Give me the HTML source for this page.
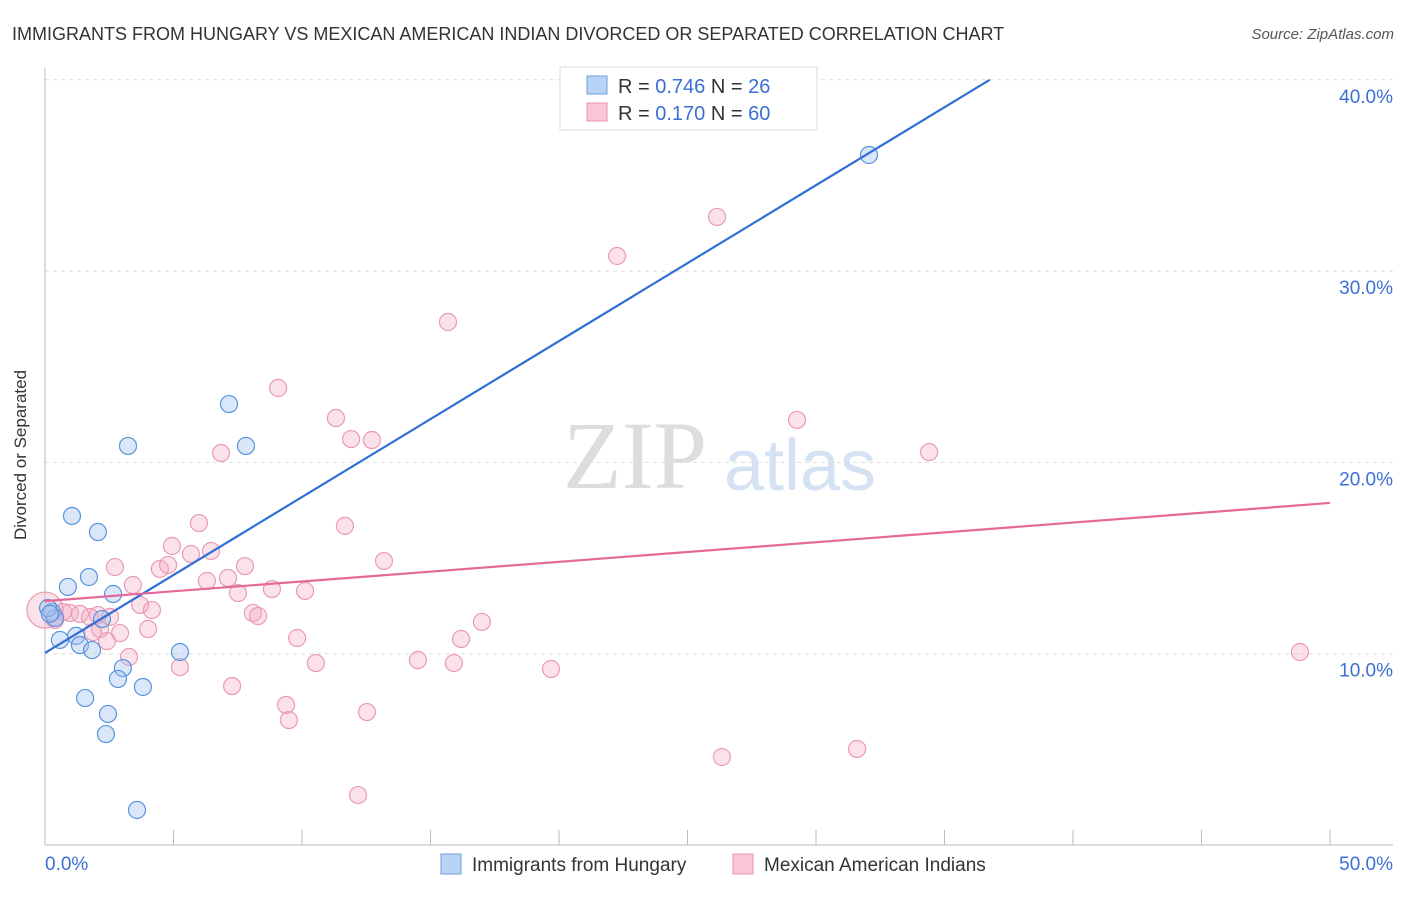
<!DOCTYPE html>
<html><head><meta charset="utf-8"><style>
body{margin:0;background:#fff;font-family:"Liberation Sans",sans-serif}
</style></head><body>
<svg width="1406" height="892" xmlns="http://www.w3.org/2000/svg">
<text x="12" y="40" font-size="18" fill="#333">IMMIGRANTS FROM HUNGARY VS MEXICAN AMERICAN INDIAN DIVORCED OR SEPARATED CORRELATION CHART</text>
<text x="1394" y="39" font-size="15" fill="#555" text-anchor="end" font-style="italic">Source: ZipAtlas.com</text>
<g>
<text x="635" y="488" font-size="96" fill="#ddd" text-anchor="middle" font-family="Liberation Serif,serif">ZIP</text>
<text x="800" y="490" font-size="72" fill="#d5e2f3" text-anchor="middle">atlas</text></g>
<g id="grid"></g><g id="axes"></g><g id="marks"></g>
<g>
<rect x="560" y="67" width="257" height="63" fill="#fff" stroke="#ddd"/>
<rect x="587" y="76" width="20" height="18" fill="#b9d3f5" stroke="#6a9fe0"/>
<rect x="587" y="103" width="20" height="18" fill="#f8c6d5" stroke="#ea94b0"/>
<text x="618" y="93" font-size="20" fill="#333">R = <tspan fill="#3b6fd4">0.746</tspan>   N = <tspan fill="#3b6fd4">26</tspan></text>
<text x="618" y="120" font-size="20" fill="#333">R = <tspan fill="#3b6fd4">0.170</tspan>   N = <tspan fill="#3b6fd4">60</tspan></text>
</g>
<g>
<rect x="441" y="854" width="20" height="20" fill="#b9d3f5" stroke="#6a9fe0"/>
<text x="472" y="871" font-size="19" fill="#333">Immigrants from Hungary</text>
<rect x="733" y="854" width="20" height="20" fill="#f8c6d5" stroke="#ea94b0"/>
<text x="764" y="871" font-size="19" fill="#333">Mexican American Indians</text>
</g>
<text x="26" y="455" font-size="17" fill="#333" text-anchor="middle" transform="rotate(-90 26 455)">Divorced or Separated</text>
</svg>
<script>
const blueX=[32.06,7.16,3.23,7.82,1.05,2.06,0.89,1.71,2.65,2.22,0.27,0.39,0.12,0.58,1.21,1.36,1.83,5.25,3.03,2.84,3.81,1.56,2.45,2.37,3.58,0.19];
const blueY=[36.07,23.05,20.86,20.86,17.2,16.36,13.49,14.01,13.12,11.81,12.18,11.87,12.39,10.72,10.93,10.45,10.19,10.09,9.25,8.68,8.26,7.68,6.85,5.80,1.83,12.08];
const pinkX=[26.15,22.26,15.68,9.07,11.32,29.26,11.91,12.72,6.85,34.4,5.99,11.67,4.94,6.46,5.68,13.19,7.78,2.72,4.47,4.79,7.12,6.30,3.42,8.83,7.51,10.12,3.70,4.16,8.09,8.29,0.97,1.36,2.06,1.75,2.53,0.70,2.14,2.92,4.01,1.87,2.41,9.81,16.19,17.0,3.27,5.25,10.54,14.51,15.91,19.69,7.28,9.38,9.49,12.53,26.34,31.6,12.18,48.83,0.0,0.39];
const pinkY=[32.83,30.79,27.34,23.89,22.32,22.22,21.22,21.17,20.49,20.54,16.83,16.68,15.63,15.37,15.21,14.85,14.58,14.53,14.43,14.64,13.96,13.80,13.59,13.38,13.17,13.28,12.55,12.28,12.13,11.97,12.13,12.08,12.02,11.92,11.92,12.18,11.29,11.08,11.29,11.13,10.66,10.82,10.77,11.66,9.83,9.30,9.51,9.67,9.51,9.20,8.31,7.32,6.53,6.95,4.60,5.02,2.61,10.09,12.28,11.76];
const yTicks=[10,20,30,40];
const yTickLabels=["10.0%","20.0%","30.0%","40.0%"];
const blueTrend=[10.04,0.815];
const pinkTrend=[12.75,0.1026];
const NS="http://www.w3.org/2000/svg";
const sx=v=>45+v*25.7, sy=v=>845-v*19.13;
function mk(t,a,p){const e=document.createElementNS(NS,t);for(const k in a)e.setAttribute(k,a[k]);p.appendChild(e);return e;}
const grid=document.getElementById('grid'),axes=document.getElementById('axes'),marks=document.getElementById('marks');
yTicks.forEach((t,i)=>{
 const l=mk('line',{x1:45,x2:1393,y1:sy(t),y2:sy(t),stroke:'#ddd','stroke-dasharray':'4,4'},grid);
 
 
 const tx=mk('text',{x:1393,y:sy(t)+23,'font-size':19,fill:'#3b6fd4','text-anchor':'end'},axes);
 tx.textContent=yTickLabels[i];
 
 
});
const ax=mk('line',{x1:45,x2:45,y1:68,y2:845,stroke:'#bbb'},axes);


const bx=mk('line',{x1:45,x2:1393,y1:845,y2:845,stroke:'#bbb'},axes);


for(let i=0;i<=10;i++){const t=mk('line',{x1:sx(i*5),x2:sx(i*5),y1:830,y2:845,stroke:'#bbb'},axes);
 
 }
[["0.0%",45,"start"],["50.0%",1393,"end"]].forEach(d=>{const t=mk('text',{x:d[1],y:870,'font-size':19,fill:'#3b6fd4','text-anchor':d[2]},axes);t.textContent=d[0];
 
 });
pinkX.forEach((x,i)=>{const c=mk('circle',{cx:sx(x),cy:sy(pinkY[i]),r:i==58?18:8.5,fill:'rgba(244,170,195,0.35)',stroke:'#ea9ab5','stroke-width':1.2},marks);
 
 });
blueX.forEach((x,i)=>{const c=mk('circle',{cx:sx(x),cy:sy(blueY[i]),r:8.5,fill:'rgba(160,195,240,0.4)',stroke:'#5b93dc','stroke-width':1.2},marks);
 
 });
const bEnd=(40-blueTrend[0])/blueTrend[1];
const bl=mk('line',{x1:sx(0),y1:sy(blueTrend[0]),x2:sx(bEnd),y2:sy(40),stroke:'#2f6fd6','stroke-width':2.2},marks);


const pl=mk('line',{x1:sx(0),y1:sy(pinkTrend[0]),x2:sx(50),y2:sy(pinkTrend[0]+pinkTrend[1]*50),stroke:'#e4699a','stroke-width':2.2},marks);


</script>
</body></html>
